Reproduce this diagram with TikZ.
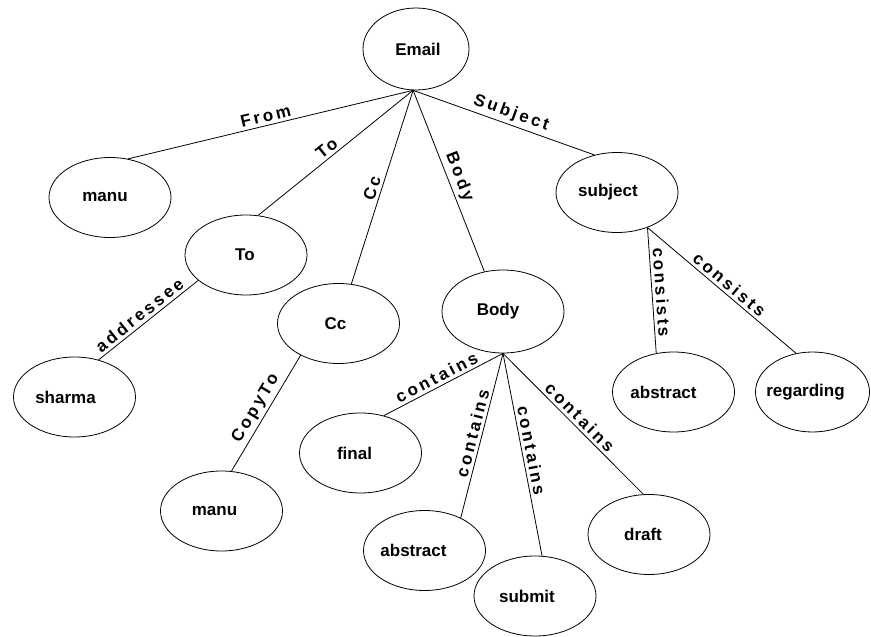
\documentclass[tikz,border=0pt]{standalone}
\usepackage{fontspec}
\setmainfont{Liberation Sans}
\newfontfamily\edgefont[LetterSpace=17]{Liberation Sans}
\usetikzlibrary{shapes.geometric}
\begin{document}
\begin{tikzpicture}[x=1pt,y=-1pt,
  concept/.style={draw, ellipse, line width=0.8pt, minimum width=122pt,
    minimum height=80pt, inner sep=0pt,
    font=\bfseries\fontsize{17}{20}\selectfont,
    execute at begin node={\hspace*{#1}}},
  concept/.default=-12pt,
  link/.style={line width=0.8pt},
  rel/.style={sloped, above, inner sep=3pt,
    font=\edgefont\bfseries\fontsize{17}{20}\selectfont}]
\useasboundingbox (0,0) rectangle (871,637);

% concepts
\node[concept=4pt, minimum width=106pt, minimum height=82pt] (email) at (416,49) {Email};
\node[concept=-10pt] (manu1) at (110,197.5) {manu};
\node[concept=-2pt] (to) at (246,255) {To};
\node[concept=-18pt] (sharma) at (74.5,397) {sharma};
\node[concept=-6pt] (cc) at (338.5,323.5) {Cc};
\node[concept=-14pt] (manu2) at (221.5,511) {manu};
\node[concept=-10pt, minimum height=83pt] (body) at (503,311.5) {Body};
\node[concept=-12pt] (final) at (360.5,453) {final};
\node[concept=-22pt] (abstract) at (424.5,550.5) {abstract};
\node[concept=-16pt] (submit) at (535,596) {submit};
\node[concept=-12pt] (draft) at (649,534.5) {draft};
\node[concept=-18pt] (subject) at (617,192.5) {subject};
\node[concept=-20pt] (abstract2) at (673.5,392) {abstract};
\node[concept=-14pt, minimum width=114pt] (regarding) at (812.5,392) {regarding};

% branching points
\coordinate (e0) at (email.-94);
\coordinate (b0) at (body.south);
\coordinate (s0) at (subject.-49);

% relations
\draw[link] (e0) -- node[rel, pos=.51] {From} (manu1.65);
\draw[link] (e0) -- node[rel, pos=.52] {To} (to.73);
\draw[link] (e0) -- node[rel, pos=.52] {Cc} (cc.72);
\draw[link] (e0) -- node[rel, pos=.50] {Body} (body.115);
\draw[link] (e0) -- node[rel, pos=.52] {Subject} (subject.121);
\draw[link] (to.208) -- node[rel, pos=.53] {addressee} (sharma.57);
\draw[link] (cc.220) -- node[rel, pos=.51] {CopyTo} (manu2.76);
\draw[link] (b0) -- node[rel, pos=.52] {contains} (final.58);
\draw[link] (b0) -- node[rel, pos=.50] {contains} (abstract.42);
\draw[link] (b0) -- node[rel, pos=.49] {contains} (submit.80);
\draw[link] (b0) -- node[rel, pos=.50] {contains} (draft.98);
\draw[link] (abstract2.114) -- node[rel, pos=.48] {consists} (s0);
\draw[link] (s0) -- node[rel, pos=.51] {consists} (regarding.113);
\end{tikzpicture}
\end{document}
